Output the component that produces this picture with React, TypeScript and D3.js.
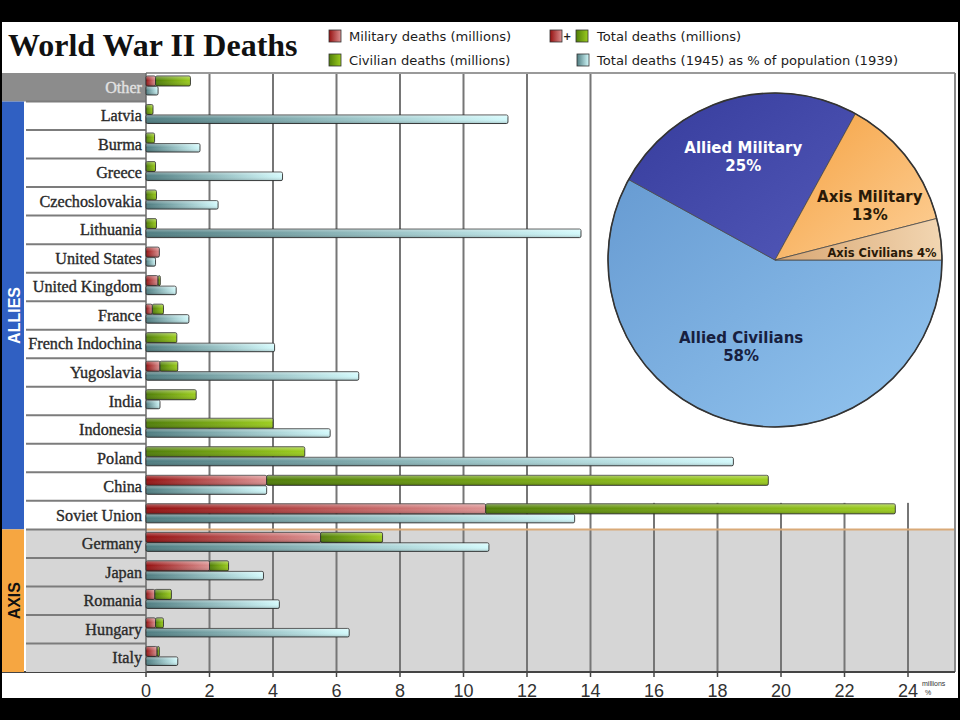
import * as d3 from "d3";

const otherRow = ["Other"];
const allies = ["Latvia", "Burma", "Greece", "Czechoslovakia", "Lithuania", "United States", "United Kingdom", "France", "French Indochina", "Yugoslavia", "India", "Indonesia", "Poland", "China", "Soviet Union"];
const axisSide = ["Germany", "Japan", "Romania", "Hungary", "Italy"];
const countries = [...otherRow, ...allies, ...axisSide];

// millions
const military = [0.3, 0, 0, 0, 0, 0, 0.42, 0.38, 0.2, 0, 0.44, 0, 0, 0, 3.8, 10.7, 5.5, 2.0, 0.28, 0.3, 0.35];
const civilian = [1.1, 0.22, 0.27, 0.3, 0.33, 0.33, 0, 0.07, 0.35, 0.97, 0.56, 1.58, 4.0, 5.0, 15.8, 12.9, 1.95, 0.6, 0.52, 0.25, 0.07];
// % of 1939 population
const pctPop = [0.38, 11.4, 1.7, 4.3, 2.27, 13.7, 0.3, 0.95, 1.35, 4.05, 6.7, 0.44, 5.8, 18.5, 3.8, 13.5, 10.8, 3.7, 4.2, 6.4, 1.0];

const xTicks = [0, 2, 4, 6, 8, 10, 12, 14, 16, 18, 20, 22, 24];

const pieNames = ["Allied Civilians", "Allied Military", "Axis Military", "Axis Civilians"];
const pieValues = [58, 25, 13, 4];

const W = 960;
const H = 720;
const serif = "'Liberation Serif', 'Times New Roman', serif";
const sans = "'Liberation Sans', Arial, sans-serif";
const verdana = "'DejaVu Sans', Verdana, sans-serif";

export default function App() {
  const x = d3.scaleLinear().domain([0, 24]).range([146, 908]);
  const y = d3.scaleBand<string>().domain(countries).range([73, 672]).padding(0);
  const bw = y.bandwidth();
  const plotRight = 955;
  const axisTop = y("Germany") ?? 0;
  const alliesTop = y("Latvia") ?? 0;
  const pieBottom = (y("Soviet Union") ?? 0) + 2;

  // pie
  const cx = 775;
  const cy = 260;
  const R = 167;
  const pie = d3
    .pie<number>()
    .sort(null)
    .startAngle(Math.PI / 2)
    .endAngle(Math.PI / 2 + Math.PI * 2);
  const arcs = pie(pieValues);
  const arc = d3.arc<d3.PieArcDatum<number>>().innerRadius(0).outerRadius(R);
  const pieFills = ["url(#pAC)", "url(#pAM)", "url(#pXM)", "url(#pXC)"];
  const labelStyle = [
    { r: 100, dx: -9, dy: -10, fill: "#17203f", size: 15 },
    { r: 110, dx: -1, dy: 3, fill: "#ffffff", size: 15 },
    { r: 120, dx: 0, dy: 20, fill: "#2a1a08", size: 15 },
    { r: 130, dx: -22, dy: 9, fill: "#2a1a08", size: 11.5 },
  ];

  return (
    <svg width={W} height={H} viewBox={`0 0 ${W} ${H}`} style={{ position: "absolute", left: 0, top: 0 }}>
      <defs>
        <linearGradient id="gRed" x1="0" y1="0" x2="1" y2="0">
          <stop offset="0%" stopColor="#951010" />
          <stop offset="100%" stopColor="#dc9191" />
        </linearGradient>
        <linearGradient id="gGreen" x1="0" y1="0" x2="1" y2="0">
          <stop offset="0%" stopColor="#4f7d08" />
          <stop offset="100%" stopColor="#9ccd1e" />
        </linearGradient>
        <linearGradient id="gCyan" x1="0" y1="0" x2="1" y2="0">
          <stop offset="0%" stopColor="#4e7c80" />
          <stop offset="100%" stopColor="#d3fafc" />
        </linearGradient>
        <linearGradient id="gShade" x1="0" y1="0" x2="0" y2="1">
          <stop offset="0%" stopColor="#ffffff" stopOpacity="0.35" />
          <stop offset="45%" stopColor="#ffffff" stopOpacity="0" />
          <stop offset="100%" stopColor="#000000" stopOpacity="0.2" />
        </linearGradient>
        <linearGradient id="pAC" x1="0" y1="0" x2="1" y2="1">
          <stop offset="0%" stopColor="#679bd2" />
          <stop offset="100%" stopColor="#94c6f0" />
        </linearGradient>
        <linearGradient id="pAM" x1="0" y1="0" x2="1" y2="1">
          <stop offset="0%" stopColor="#363c9c" />
          <stop offset="100%" stopColor="#5258b8" />
        </linearGradient>
        <linearGradient id="pXM" x1="0" y1="0" x2="1" y2="1">
          <stop offset="0%" stopColor="#f5a140" />
          <stop offset="100%" stopColor="#fdd098" />
        </linearGradient>
        <linearGradient id="pXC" x1="0" y1="0" x2="1" y2="0">
          <stop offset="0%" stopColor="#d8a672" />
          <stop offset="100%" stopColor="#f2d6b2" />
        </linearGradient>
      </defs>

      <rect x={0} y={0} width={W} height={H} fill="#000" />
      <rect x={2} y={22} width={956} height={676} fill="#fff" />

      {/* axis-side background */}
      <rect x={26} y={axisTop} width={plotRight - 26} height={672 - axisTop} fill="#d6d6d6" />

      {/* gridlines */}
      {xTicks.slice(1).map((t) => (
        <line key={t} x1={x(t)} x2={x(t)} y1={73} y2={672} stroke="#767676" strokeWidth={2} />
      ))}
      {/* panel behind the pie */}
      <rect x={x(14) + 2} y={74} width={plotRight - x(14) - 3} height={pieBottom - 74} fill="#fff" />

      <line x1={26} x2={plotRight} y1={axisTop} y2={axisTop} stroke="#d9aa78" strokeWidth={2} />
      <line x1={146} x2={plotRight} y1={73} y2={73} stroke="#9a9a9a" strokeWidth={2} />
      <line x1={plotRight} x2={plotRight} y1={73} y2={672} stroke="#8a8a8a" strokeWidth={2} />
      <line x1={2} x2={plotRight} y1={672} y2={672} stroke="#444" strokeWidth={2} />

      {/* label column */}
      {countries.map((c, i) => {
        const yy = y(c) ?? 0;
        const isOther = i === 0;
        const isAxis = axisSide.includes(c);
        return (
          <g key={c}>
            <rect
              x={isOther ? 2 : 26}
              y={yy}
              width={isOther ? 144 : 120}
              height={bw}
              fill={isOther ? "#8c8c8c" : isAxis ? "#d6d6d6" : "#fff"}
            />
            {!isOther && <line x1={26} x2={146} y1={yy} y2={yy} stroke="#7c7c7c" strokeWidth={2} />}
            <text
              x={142}
              y={yy + bw / 2 + 5.5}
              textAnchor="end"
              fontFamily={serif}
              fontSize={16.2}
              fill={isOther ? "#e2e2e2" : "#2a2a2a"}
              stroke={isOther ? "#e2e2e2" : "#2a2a2a"}
              strokeWidth={0.35}
            >
              {c}
            </text>
          </g>
        );
      })}
      <line x1={146} x2={146} y1={73} y2={672} stroke="#6a6a6a" strokeWidth={1.5} />

      {/* side strips */}
      <rect x={2} y={alliesTop} width={22} height={bw * allies.length} fill="#3060c2" />
      <text
        transform={`translate(19.5,${alliesTop + (bw * allies.length) / 2}) rotate(-90)`}
        textAnchor="middle"
        fontFamily={sans}
        fontWeight="bold"
        fontSize={16}
        fill="#fff"
      >
        ALLIES
      </text>
      <rect x={2} y={axisTop} width={22} height={bw * axisSide.length} fill="#f6a641" />
      <text
        transform={`translate(19.5,${axisTop + (bw * axisSide.length) / 2}) rotate(-90)`}
        textAnchor="middle"
        fontFamily={sans}
        fontWeight="bold"
        fontSize={16}
        fill="#111"
      >
        AXIS
      </text>

      {/* bars */}
      {countries.map((c, i) => {
        const yy = y(c) ?? 0;
        const m = military[i];
        const cv = civilian[i];
        const p = pctPop[i];
        const top = yy + 3;
        const bot = yy + 13.5;
        const bars: { x0: number; x1: number; y: number; h: number; fill: string }[] = [];
        if (m > 0) bars.push({ x0: x(0), x1: x(m), y: top, h: 10, fill: "url(#gRed)" });
        if (cv > 0) bars.push({ x0: x(m), x1: x(m + cv), y: top, h: 10, fill: "url(#gGreen)" });
        bars.push({ x0: x(0), x1: x(p), y: bot, h: 8.5, fill: "url(#gCyan)" });
        return (
          <g key={c}>
            {bars.map((b, k) => (
              <g key={k}>
                <rect x={b.x0} y={b.y} width={b.x1 - b.x0} height={b.h} rx={1.5} fill={b.fill} stroke="#2c2c2c" strokeWidth={0.9} />
                <rect x={b.x0} y={b.y} width={b.x1 - b.x0} height={b.h} rx={1.5} fill="url(#gShade)" />
              </g>
            ))}
          </g>
        );
      })}

      {/* pie */}
      <g transform={`translate(${cx},${cy})`}>
        {arcs.map((a, i) => (
          <path key={pieNames[i]} d={arc(a) ?? ""} fill={pieFills[i]} stroke="#4a4a4a" strokeWidth={0.8} />
        ))}
        <circle r={R} fill="none" stroke="#333" strokeWidth={1.6} />
        {arcs.map((a, i) => {
          const ls = labelStyle[i];
          const [lx, ly] = d3.arc<d3.PieArcDatum<number>>().innerRadius(ls.r).outerRadius(ls.r).centroid(a);
          const px = lx + ls.dx;
          const py = ly + ls.dy;
          if (i === 3) {
            return (
              <text key={i} x={px} y={py + 4} textAnchor="middle" fontFamily={verdana} fontWeight="bold" fontSize={ls.size} fill={ls.fill}>
                {`${pieNames[i]} ${pieValues[i]}%`}
              </text>
            );
          }
          return (
            <text key={i} textAnchor="middle" fontFamily={verdana} fontWeight="bold" fontSize={ls.size} fill={ls.fill}>
              <tspan x={px} y={py - 4}>{pieNames[i]}</tspan>
              <tspan x={px} y={py + 14}>{`${pieValues[i]}%`}</tspan>
            </text>
          );
        })}
      </g>

      {/* x axis ticks */}
      {xTicks.map((t) => (
        <g key={t}>
          <line x1={x(t)} x2={x(t)} y1={672} y2={677} stroke="#444" strokeWidth={1.5} />
          <text x={x(t)} y={697} textAnchor="middle" fontFamily={sans} fontSize={18} fill="#333">
            {t}
          </text>
        </g>
      ))}
      <text x={922} y={686} fontFamily={sans} fontSize={7} fill="#333">millions</text>
      <text x={925} y={695} fontFamily={sans} fontSize={7} fill="#333">%</text>

      {/* title */}
      <text x={8} y={56} fontFamily={serif} fontWeight="bold" fontSize={32} fill="#111">
        World War II Deaths
      </text>

      {/* legend */}
      <g fontFamily={verdana} fontSize={13.1} fill="#1c1c1c">
        <rect x={329} y={30} width={12} height={12} fill="url(#gRed)" stroke="#333" strokeWidth={0.8} />
        <text x={349} y={41}>Military deaths (millions)</text>
        <rect x={329} y={54} width={12} height={12} fill="url(#gGreen)" stroke="#333" strokeWidth={0.8} />
        <text x={349} y={65}>Civilian deaths (millions)</text>
        <rect x={550} y={30} width={12} height={12} fill="url(#gRed)" stroke="#333" strokeWidth={0.8} />
        <text x={563} y={40} fontSize={10} fontWeight="bold">+</text>
        <rect x={576} y={30} width={12} height={12} fill="url(#gGreen)" stroke="#333" strokeWidth={0.8} />
        <text x={597} y={41}>Total deaths (millions)</text>
        <rect x={577} y={54} width={12} height={12} fill="url(#gCyan)" stroke="#333" strokeWidth={0.8} />
        <text x={597} y={65}>Total deaths (1945) as % of population (1939)</text>
      </g>
    </svg>
  );
}
